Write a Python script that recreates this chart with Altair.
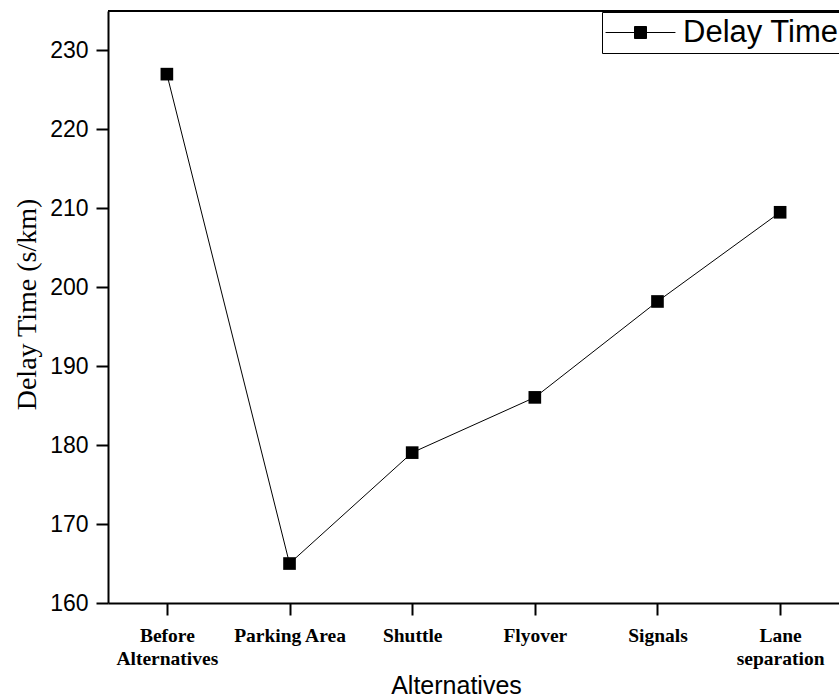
import altair as alt
import pandas as pd

categories = ["Before\nAlternatives", "Parking Area", "Shuttle", "Flyover", "Signals", "Lane\nseparation"]
delay_time = [227.0, 165.0, 179.05, 186.05, 198.2, 209.5]
series_name = ["Delay Time"] * len(categories)
y_ticks = [160, 170, 180, 190, 200, 210, 220, 230]
y_min, y_max = 160, 235

df = pd.DataFrame({"alt": categories, "delay": delay_time, "series": series_name})

SANS = "Liberation Sans"
SERIF = "Liberation Serif"

x_scale = alt.Scale(type="point", domain=categories, padding=0.48)
y_scale = alt.Scale(domain=[y_min, y_max], nice=False, zero=False)

y_axis = alt.Axis(
    values=y_ticks, title="Delay Time (s/km)", grid=False, ticks=True,
    labelFont=SANS, labelFontSize=23, labelColor="black", labelPadding=8,
    tickSize=12, tickWidth=2, tickColor="black",
    domainColor="black", domainWidth=2,
    titleFont=SERIF, titleFontSize=28, titleFontWeight="normal", titleColor="black",
    titleX=-73, titleY=293, titleBaseline="alphabetic",
)

x_axis = alt.Axis(
    title="Alternatives", grid=False, labelAngle=0, ticks=True,
    labelExpr="split(datum.label, '\\n')",
    labelFont=SERIF, labelFontSize=19.5, labelFontWeight="bold", labelColor="black",
    labelPadding=11, labelLineHeight=23,
    tickSize=12, tickWidth=2, tickColor="black",
    domainColor="black", domainWidth=2,
    titleFont=SANS, titleFontSize=25, titleFontWeight="normal", titleColor="black",
    titleX=348, titleY=90, titleBaseline="alphabetic",
)

line = alt.Chart(df).mark_line(color="black", strokeWidth=1).encode(
    x=alt.X("alt:N", scale=x_scale, axis=x_axis, sort=categories),
    y=alt.Y("delay:Q", scale=y_scale, axis=y_axis),
)

legend_symbol = "M-1.13,0H0.8M1.6,0H3.53M0.8,-0.4H1.6V0.4H0.8Z"

points = alt.Chart(df).mark_point(filled=True, shape="square", size=160, opacity=1).encode(
    x=alt.X("alt:N", sort=categories),
    y=alt.Y("delay:Q"),
    color=alt.Color(
        "series:N",
        scale=alt.Scale(domain=["Delay Time"], range=["black"]),
        legend=alt.Legend(
            title=None, orient="none", legendX=494, legendY=1,
            fillColor="white", strokeColor="black", padding=5,
            symbolType=legend_symbol, symbolSize=900,
            symbolStrokeColor="black", symbolStrokeWidth=1, symbolFillColor="black",
            labelFont=SANS, labelFontSize=31, labelColor="black", labelOffset=45,
        ),
    ),
)

top_border = alt.Chart(df).mark_rule(color="black", strokeWidth=2).encode(
    y=alt.datum(y_max),
)

chart = alt.layer(line, points, top_border).properties(
    width=731, height=592,
    autosize=alt.AutoSizeParams(type="none"),
    padding={"left": 108, "top": 11, "right": 0, "bottom": 97},
    background="white",
).configure_view(strokeWidth=0)

chart.save("out.html", embed_options={"renderer": "svg", "actions": False})
